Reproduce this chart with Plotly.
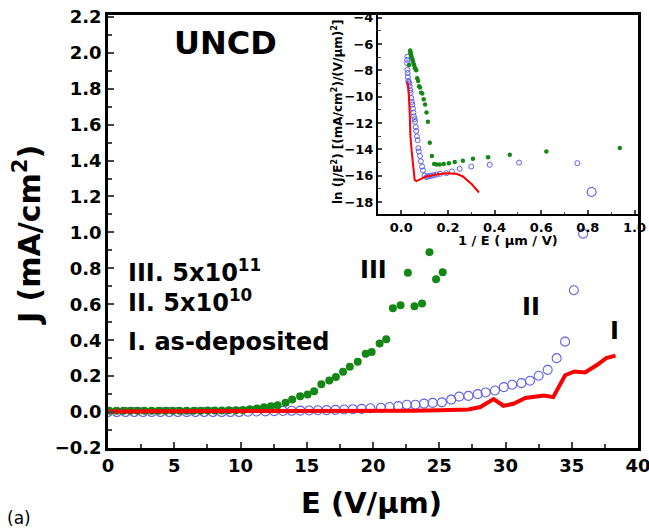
import plotly.graph_objects as go

W, H = 649, 529

# ---------------- main panel data ----------------
# Series III: 5x10^11 (green filled circles)
E_III = [0.1, 0.64, 1.17, 1.7, 2.23, 2.76, 3.29, 3.82, 4.35, 4.88, 5.41, 5.94, 6.47, 7.0,
         7.53, 8.06, 8.59, 9.12, 9.65, 10.18, 10.71, 11.24, 11.77, 12.3, 12.8, 13.4, 13.9,
         14.5, 15.06, 15.56, 16.1, 16.7, 17.2, 17.74, 18.25, 18.85, 19.45, 19.9, 20.5, 21.0,
         21.5, 22.08, 22.63, 23.13, 23.7, 24.26, 24.76, 25.26]
J_III = [0.008, 0.008, 0.008, 0.008, 0.008, 0.008, 0.008, 0.008, 0.008, 0.008, 0.008, 0.008,
         0.008, 0.008, 0.009, 0.009, 0.009, 0.01, 0.01, 0.012, 0.015, 0.02, 0.027, 0.033,
         0.038, 0.052, 0.07, 0.088, 0.098, 0.116, 0.155, 0.175, 0.195, 0.225, 0.252, 0.28,
         0.325, 0.335, 0.382, 0.405, 0.578, 0.595, 0.775, 0.589, 0.604, 0.89, 0.739, 0.778]

# Series II: 5x10^10 (blue open circles)
E_II = [0.0, 0.66, 1.32, 1.98, 2.64, 3.3, 3.96, 4.62, 5.28, 5.94, 6.6, 7.26, 7.92, 8.58,
        9.24, 9.9, 10.56, 11.22, 11.88, 12.54, 13.2, 13.86, 14.52, 15.18, 15.84, 16.5,
        17.16, 17.82, 18.48, 19.14, 19.8, 20.6, 21.25, 21.9, 22.55, 23.2, 23.85, 24.5,
        25.2, 25.9, 26.5, 27.2, 27.9, 28.5, 29.2, 29.87, 30.5, 31.2, 31.85, 32.5, 33.18,
        33.86, 34.5, 35.16, 35.86, 36.5]
J_II = [0.0, 0.0, 0.0, 0.0, 0.0, 0.0, 0.0, 0.0, 0.0, 0.0, 0.0, 0.0, 0.0, 0.0, 0.0, 0.0,
        0.002, 0.003, 0.004, 0.005, 0.006, 0.007, 0.008, 0.009, 0.01, 0.011, 0.012, 0.014,
        0.016, 0.018, 0.021, 0.024, 0.028, 0.033, 0.041, 0.041, 0.047, 0.051, 0.054, 0.069,
        0.086, 0.09, 0.1, 0.109, 0.12, 0.139, 0.152, 0.161, 0.174, 0.202, 0.235, 0.3, 0.392,
        0.678, 0.993, 1.225]

# Series I: as-deposited (red line)
E_I = [0.0, 2.0, 4.0, 6.0, 8.0, 10.0, 12.0, 14.0, 16.0, 18.0, 20.45, 22.96, 25.0, 27.2,
       28.1, 29.1, 29.85, 30.6, 31.5, 32.2, 32.9, 33.6, 34.5, 35.2, 36.0, 36.9, 37.6, 38.3]
J_I = [0.003, 0.003, 0.003, 0.003, 0.004, 0.004, 0.005, 0.005, 0.006, 0.006, 0.006, 0.008,
       0.01, 0.014, 0.028, 0.072, 0.035, 0.046, 0.078, 0.083, 0.092, 0.083, 0.205, 0.226,
       0.22, 0.262, 0.3, 0.314]

# ---------------- inset data: ln(J/E^2) vs 1/E ----------------
ins_III_x = [0.033, 0.038, 0.039, 0.040, 0.041, 0.042, 0.044, 0.046, 0.048, 0.050, 0.052,
             0.055, 0.058, 0.061, 0.064, 0.068, 0.072, 0.076, 0.080, 0.085, 0.090, 0.096,
             0.102, 0.108, 0.114, 0.122, 0.131, 0.141, 0.152, 0.165, 0.182, 0.204, 0.229,
             0.264, 0.307, 0.372, 0.465, 0.622, 0.937]
ins_III_y = [-7.6, -6.5, -6.6, -6.7, -6.8, -6.9, -7.0, -7.1, -7.2, -7.3, -7.5, -7.6, -7.8,
             -7.9, -8.0, -8.6, -8.8, -9.2, -9.3, -9.7, -9.75, -10.2, -10.6, -11.2, -11.9,
             -13.5, -14.5, -15.1, -15.15, -15.15, -15.1, -15.04, -14.96, -14.85, -14.7,
             -14.6, -14.4, -14.16, -13.9]

ins_II_x = [0.026, 0.025, 0.025, 0.026, 0.027, 0.028, 0.030, 0.032, 0.034, 0.036, 0.038,
            0.040, 0.043, 0.045, 0.047, 0.050, 0.052, 0.054, 0.057, 0.059, 0.062, 0.064,
            0.067, 0.070, 0.073, 0.075, 0.080, 0.084, 0.089, 0.093, 0.100, 0.108, 0.114,
            0.122, 0.130, 0.140, 0.152, 0.166, 0.193, 0.217, 0.250, 0.300, 0.379, 0.505,
            0.755]
ins_II_y = [-6.96, -7.2, -7.46, -7.96, -8.2, -8.5, -8.8, -8.9, -9.0, -9.2, -9.5, -9.7,
            -10.1, -10.4, -10.6, -10.9, -11.2, -11.5, -11.7, -11.9, -12.3, -12.6, -13.0,
            -13.3, -13.9, -14.15, -14.5, -14.9, -15.3, -15.6, -15.98, -16.1, -16.05, -16.0,
            -16.0, -15.95, -15.9, -15.85, -15.8, -15.67, -15.47, -15.3, -15.17, -15.0,
            -15.04]

ins_I_x = [0.026, 0.031, 0.036, 0.039, 0.045, 0.051, 0.057, 0.064, 0.085, 0.107, 0.15,
           0.193, 0.236, 0.264, 0.30, 0.333]
ins_I_y = [-8.86, -9.5, -11.25, -13.0, -14.2, -15.3, -16.3, -16.4, -16.2, -16.05, -15.9,
           -15.8, -15.85, -16.05, -16.6, -17.27]

GREEN = "rgb(20,135,20)"
BLUE = "rgb(95,95,235)"
RED = "rgb(250,0,0)"
FONT = "DejaVu Sans"


def px(x):
    return x / W


def py(y):
    return 1 - y / H


fig = go.Figure()

# main traces
fig.add_trace(go.Scatter(x=E_II, y=J_II, mode="markers",
                         marker=dict(symbol="circle-open", size=9, color=BLUE,
                                     line=dict(width=1.1, color=BLUE)),
                         xaxis="x", yaxis="y"))
fig.add_trace(go.Scatter(x=E_III, y=J_III, mode="markers",
                         marker=dict(symbol="circle", size=8, color=GREEN),
                         xaxis="x", yaxis="y"))
fig.add_trace(go.Scatter(x=E_I, y=J_I, mode="lines",
                         line=dict(color=RED, width=4),
                         xaxis="x", yaxis="y"))

# inset traces
fig.add_trace(go.Scatter(x=ins_II_x, y=ins_II_y, mode="markers",
                         marker=dict(symbol="circle-open", size=5, color=BLUE,
                                     line=dict(width=1, color=BLUE)),
                         xaxis="x2", yaxis="y2"))
fig.add_trace(go.Scatter(x=ins_III_x, y=ins_III_y, mode="markers",
                         marker=dict(symbol="circle", size=4.5, color=GREEN),
                         xaxis="x2", yaxis="y2"))
fig.add_trace(go.Scatter(x=ins_I_x, y=ins_I_y, mode="lines",
                         line=dict(color=RED, width=2),
                         xaxis="x2", yaxis="y2"))

tick_main = dict(family=FONT, size=18, color="black", weight="bold")
tick_ins = dict(family=FONT, size=13, color="black", weight="bold")

fig.update_layout(
    width=W, height=H,
    margin=dict(l=0, r=0, t=0, b=0, autoexpand=False),
    paper_bgcolor="white", plot_bgcolor="rgba(0,0,0,0)",
    showlegend=False,
    xaxis=dict(domain=[px(108), px(638)], range=[0, 40], dtick=5, tick0=0,
               ticks="inside", ticklen=6, tickwidth=2, showline=True, linewidth=2.5,
               linecolor="black", mirror=True, showgrid=False, zeroline=False,
               tickfont=tick_main, anchor="y", automargin=False,
               ticklabeloverflow="allow",
               minor=dict(dtick=2.5, ticks="inside", ticklen=4, tickwidth=2)),
    yaxis=dict(domain=[py(448), py(15)], range=[-0.2, 2.21], dtick=0.2, tick0=0,
               tickformat=".1f", ticks="inside", ticklen=6, tickwidth=2, showline=True,
               linewidth=2.5, linecolor="black", mirror=True, showgrid=False,
               zeroline=False, tickfont=tick_main, anchor="x", automargin=False,
               ticklabeloverflow="allow",
               minor=dict(dtick=0.1, ticks="inside", ticklen=4, tickwidth=2)),
    xaxis2=dict(domain=[px(378), px(638)], range=[-0.1, 1.015], dtick=0.2, tick0=0,
                tickformat=".1f", ticks="inside", ticklen=4, tickwidth=1.5,
                showline=True, linewidth=2, linecolor="black", mirror=True,
                showgrid=False, zeroline=False, tickfont=tick_ins, anchor="y2",
                automargin=False, ticklabeloverflow="allow",
                minor=dict(dtick=0.1, ticks="inside", ticklen=2.5, tickwidth=1.2)),
    yaxis2=dict(domain=[py(214), py(15)], range=[-18.9, -3.8], dtick=2, tick0=0,
                ticks="inside", ticklen=4, tickwidth=1.5, showline=True, linewidth=2,
                linecolor="black", mirror=True, showgrid=False, zeroline=False,
                tickfont=tick_ins, anchor="x2", automargin=False,
                ticklabeloverflow="allow",
                minor=dict(dtick=1, ticks="inside", ticklen=2.5, tickwidth=1.2)),
)


def ann(text, x, y, size, bold=True, angle=0, xanchor="center", yanchor="middle"):
    fig.add_annotation(text=text, x=px(x), y=py(y), xref="paper", yref="paper",
                       showarrow=False, textangle=angle, xanchor=xanchor, yanchor=yanchor,
                       font=dict(family=FONT, size=size, color="black",
                                 weight="bold" if bold else "normal"))


ann("UNCD", 225, 43, 32)
ann("III. 5x10<sup>11</sup>", 126, 271, 24, xanchor="left")
ann("II. 5x10<sup>10</sup>", 126, 301, 24, xanchor="left")
ann("I. as-deposited", 126, 342, 24, xanchor="left")
ann("III", 373, 270, 24)
ann("II", 531, 307, 24)
ann("I", 614, 331, 24)
ann("J (mA/cm<sup>2</sup>)", 27, 235, 30, angle=-90)
ann("E (V/μm)", 371, 503, 29)
ann("(a)", 5, 518, 17, bold=False, xanchor="left")
ann("ln (J/E<sup>2</sup>) [(mA/cm<sup>2</sup>)/(V/μm)<sup>2</sup>]", 337, 112, 12, angle=-90)
ann("1 / E ( μm / V)", 508, 240, 13)

fig.write_html("out.html")
